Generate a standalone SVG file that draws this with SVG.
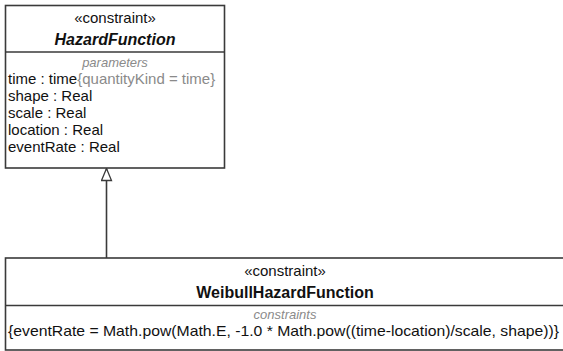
<svg xmlns="http://www.w3.org/2000/svg" width="563" height="351" viewBox="0 0 563 351">
<style>
text{font-family:"Liberation Sans",Arial,sans-serif;font-size:15px;fill:#111}
.c{text-anchor:middle}
.st{font-size:15px}
.nm{font-weight:bold;font-size:16px}
.it{font-style:italic}
.cat{font-style:italic;fill:#8a8a8a;font-size:13px}
.g{fill:#8a8a8a}
.box{fill:#fff;stroke:#3a3a3a;stroke-width:1.6}
.ln{stroke:#3a3a3a;stroke-width:1.6;fill:none}
</style>
<defs>
<marker id="gen" viewBox="0 0 14 12" refX="13" refY="6" markerWidth="14" markerHeight="12" markerUnits="userSpaceOnUse" orient="auto">
<path d="M1,1 L13,6 L1,11 Z" fill="#fff" stroke="#3a3a3a" stroke-width="1.3"/>
</marker>
</defs>
<g id="connectors">
<line class="ln" x1="106.5" y1="258" x2="106.5" y2="168.5" marker-end="url(#gen)"/>
</g>
<g id="HazardFunction">
<rect class="box" x="5.5" y="5.5" width="219" height="162.5"/>
<line class="ln" x1="5.5" y1="52" x2="224.5" y2="52"/>
<text class="c st" x="115" y="23">«constraint»</text>
<text class="c nm it" x="115" y="45">HazardFunction</text>
<text class="c cat" x="115" y="67">parameters</text>
<text x="8" y="84">time : time<tspan class="g">{quantityKind = time}</tspan></text>
<text x="8" y="101">shape : Real</text>
<text x="8" y="118">scale : Real</text>
<text x="8" y="135">location : Real</text>
<text x="8" y="152">eventRate : Real</text>
</g>
<g id="WeibullHazardFunction">
<rect class="box" x="5.5" y="258" width="562" height="92"/>
<line class="ln" x1="5.5" y1="305.5" x2="567.5" y2="305.5"/>
<text class="c st" x="285" y="276">«constraint»</text>
<text class="c nm" x="285" y="298">WeibullHazardFunction</text>
<text class="c cat" x="285" y="319">constraints</text>
<text x="8" y="336" textLength="551" lengthAdjust="spacingAndGlyphs">{eventRate = Math.pow(Math.E, -1.0 * Math.pow((time-location)/scale, shape))}</text>
</g>
</svg>
